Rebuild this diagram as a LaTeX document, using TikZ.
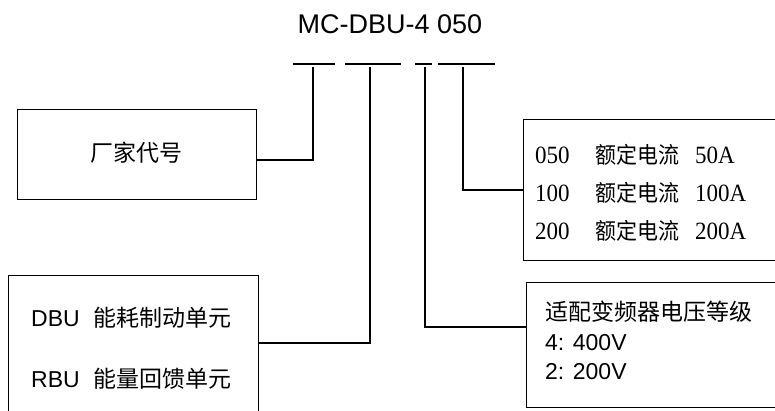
\documentclass[tikz,border=0pt]{standalone}
\usepackage{fontspec}
\setmainfont{Liberation Serif}
\newfontfamily\lsans{Liberation Sans}
\newfontfamily\tnr{Liberation Serif}
\newfontfamily\cjk{Noto Sans CJK SC}
\begin{document}
\begin{tikzpicture}[x=1pt,y=-1pt,
  line/.style={line width=1.3pt, black},
  box/.style={draw, line width=1.3pt, rectangle, inner sep=0pt, anchor=north west},
  txt/.style={inner sep=0pt, anchor=west},
  sz/.style={font=\fontsize{23}{28}\selectfont}]
\useasboundingbox (0,0) rectangle (775,410);
\clip (0,0) rectangle (775,410);
% title
\node[inner sep=0pt, font=\lsans\fontsize{27}{30}\selectfont] (title) at (390,24) {MC-DBU-4 050};
% bars under code
\draw[line] (293,64) -- (335,64);
\draw[line] (345,64) -- (401,64);
\draw[line] (415,64) -- (432,64);
\draw[line] (438,64) -- (495,64);
\coordinate (t1) at (313,67);
\coordinate (t2) at (370,67);
\coordinate (t3) at (425,67);
\coordinate (t4) at (463,67);
% boxes
\node[box, minimum width=239pt, minimum height=90pt] (b1) at (17,109) {};
\node[box, minimum width=250pt, minimum height=180pt] (b2) at (8,275) {};
\node[box, minimum width=280pt, minimum height=141pt] (b3) at (523,119) {};
\node[box, minimum width=280pt, minimum height=125pt] (b4) at (526,282) {};
\coordinate (c1) at (256,160);
\coordinate (c2) at (258,343);
\coordinate (c3) at (526,327);
\coordinate (c4) at (523,190);
% connectors
\draw[line] (t1) |- (c1);
\draw[line] (t2) |- (c2);
\draw[line] (t3) |- (c3);
\draw[line] (t4) |- (c4);
% box 1 text
\node[inner sep=0pt, font=\cjk\fontsize{23}{28}\selectfont] (l1) at (136,153) {厂家代号};
% box 2 text
\node[txt, sz] (d1) at (31,318) {\lsans\makebox[62pt][l]{DBU}\cjk 能耗制动单元};
\node[txt, sz] (d2) at (31,379) {\lsans\makebox[62pt][l]{RBU}\cjk 能量回馈单元};
% box 3 text
\node[txt, sz, yscale=1.08] (r1) at (535,155) {\tnr\makebox[60pt][l]{050}{\cjk\fontsize{21}{28}\selectfont 额定电流}\hspace{16pt}50A};
\node[txt, sz, yscale=1.08] (r2) at (535,193) {\tnr\makebox[60pt][l]{100}{\cjk\fontsize{21}{28}\selectfont 额定电流}\hspace{16pt}100A};
\node[txt, sz, yscale=1.08] (r3) at (535,231) {\tnr\makebox[60pt][l]{200}{\cjk\fontsize{21}{28}\selectfont 额定电流}\hspace{16pt}200A};
% box 4 text
\node[txt, sz] (v1) at (545,312) {\cjk 适配变频器电压等级};
\node[txt, sz] (v2) at (545,343) {\lsans 4: 400V};
\node[txt, sz] (v3) at (545,372) {\lsans 2: 200V};
\end{tikzpicture}
\end{document}
